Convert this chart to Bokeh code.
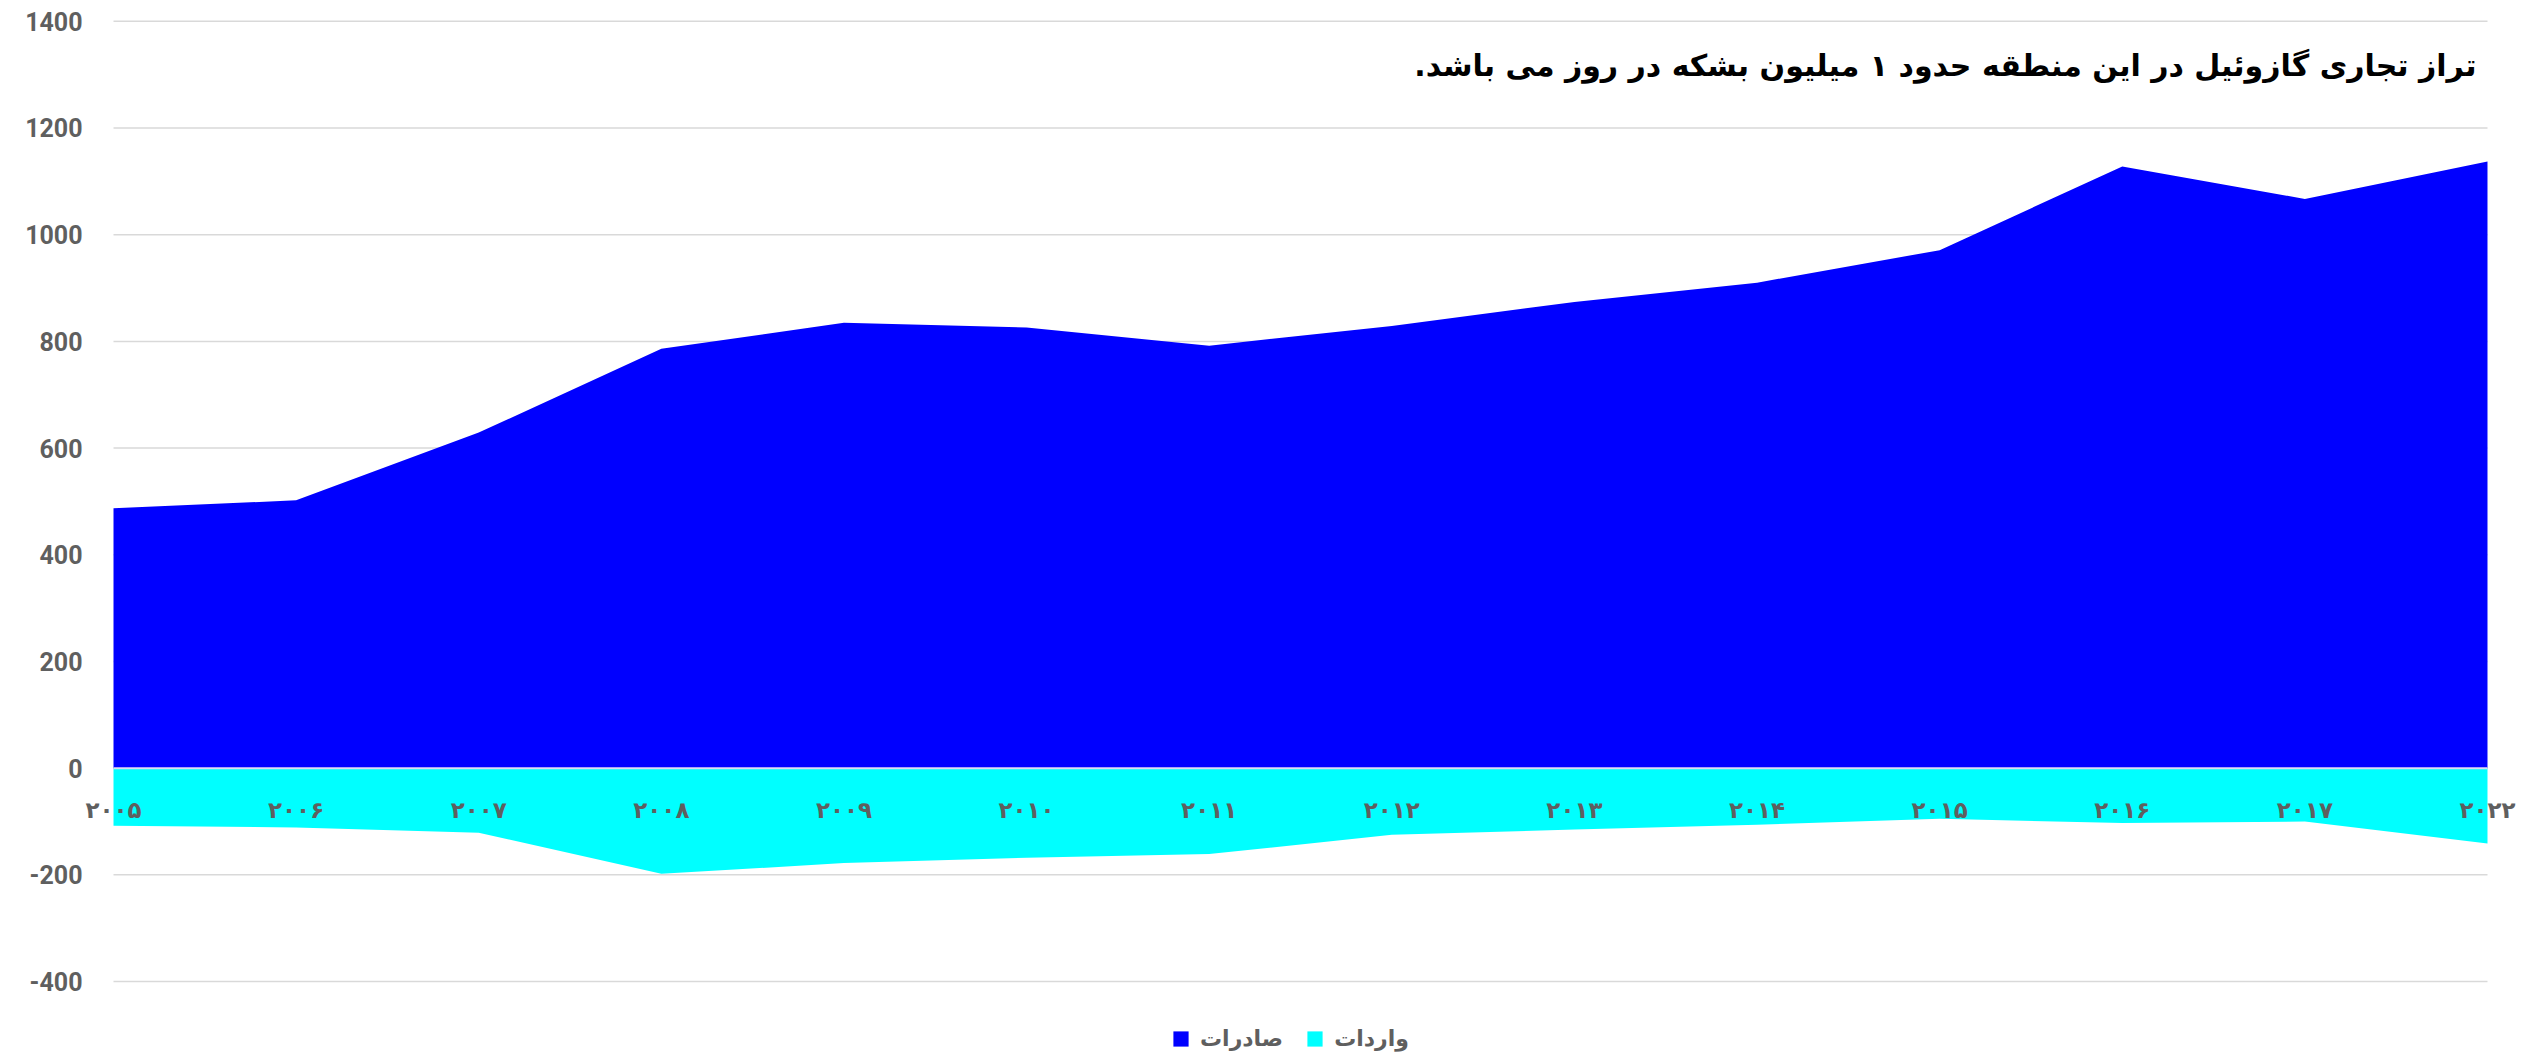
from bokeh.plotting import figure
from bokeh.models import Range1d, Legend, LegendItem, Label, ColumnDataSource
from bokeh.embed import file_html
from bokeh.resources import INLINE

years = ["۲۰۰۵", "۲۰۰۶", "۲۰۰۷", "۲۰۰۸", "۲۰۰۹", "۲۰۱۰", "۲۰۱۱",
         "۲۰۱۲", "۲۰۱۳", "۲۰۱۴", "۲۰۱۵", "۲۰۱۶", "۲۰۱۷", "۲۰۲۲"]
exports = [487, 502, 629, 786, 835, 826, 792, 829, 874, 910, 971, 1128, 1067, 1137]
imports = [-108, -111, -121, -198, -178, -168, -161, -125, -115, -106, -95, -103, -100, -141]
y_ticks = [-400, -200, 0, 200, 400, 600, 800, 1000, 1200, 1400]
y_tick_labels = ["-400", "-200", "0", "200", "400", "600", "800", "1000", "1200", "1400"]
series_names = ["صادرات", "واردات"]
title_text = "تراز تجاری گازوئیل در این منطقه حدود ۱ میلیون بشکه در روز می باشد."

idx = list(range(len(years)))
last = len(years) - 1
src = ColumnDataSource(dict(x=idx, exports=exports, imports=imports, zero=[0] * len(idx),
                            labels=years))
grid_src = ColumnDataSource(dict(y=y_ticks, text=y_tick_labels,
                                 x0=[0] * len(y_ticks), x1=[last] * len(y_ticks)))

# frame spans the whole canvas so that edge labels are not clipped
p = figure(width=2526, height=1052, output_backend="svg", toolbar_location=None,
           x_range=Range1d(-0.6188, last + 0.2136), y_range=Range1d(-533, 1439),
           min_border_left=0, min_border_right=0, min_border_top=0, min_border_bottom=0)
p.outline_line_color = None
p.background_fill_color = "white"
p.xgrid.visible = False
p.ygrid.visible = False
p.xaxis.visible = False
p.yaxis.visible = False

# horizontal grid lines spanning the data extent
p.segment(x0="x0", x1="x1", y0="y", y1="y", source=grid_src,
          line_color="#d9d9d9", line_width=1.5)

r1 = p.varea(x="x", y1="zero", y2="exports", source=src, fill_color="#0000ff")
r2 = p.varea(x="x", y1="zero", y2="imports", source=src, fill_color="#00ffff")
# thin light line separating the two areas at zero
p.segment(x0=[0], x1=[last], y0=[0], y1=[0], line_color="#dcdcf4", line_width=2)

# y tick labels
p.text(x="x0", y="y", text="text", source=grid_src, x_offset=-31,
       text_align="right", text_baseline="middle", text_font={"value": "Roboto"},
       text_font_style="bold", text_font_size="25px", text_color="#5f5f5f")

# x category labels just below zero line
p.text(x="x", y="zero", text="labels", source=src, y_offset=42,
       text_align="center", text_baseline="middle", text_font={"value": "DejaVu Sans"},
       text_font_style="bold", text_font_size="23px", text_color="#5f5f5f")

p.add_layout(Label(x=last, y=1318, x_offset=-11, text=title_text + "\u200f",
                   text_align="right", text_baseline="middle",
                   text_font="DejaVu Sans", text_font_style="bold",
                   text_font_size="30px", text_color="#000000"))

legend = Legend(items=[LegendItem(label=series_names[0], renderers=[r1]),
                       LegendItem(label=series_names[1], renderers=[r2])],
                orientation="horizontal", location=(1171, 1),
                label_text_font="DejaVu Sans", label_text_font_style="bold",
                label_text_font_size="22px", label_text_color="#5f5f5f",
                glyph_width=19, glyph_height=19, padding=0, margin=0, spacing=22,
                label_standoff=10, border_line_color=None, background_fill_alpha=0)
p.add_layout(legend, "center")

open("out.html", "w").write(file_html(p, INLINE))
